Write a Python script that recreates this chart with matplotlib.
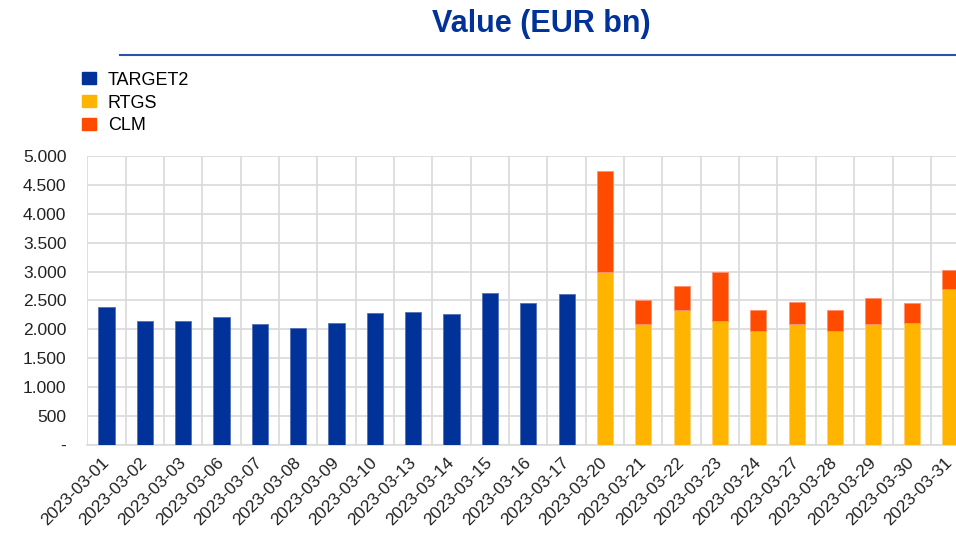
import matplotlib
matplotlib.use("Agg")
import matplotlib.pyplot as plt
import matplotlib.transforms as mtransforms
from matplotlib.lines import Line2D
from matplotlib.patches import Patch
import numpy as np

plt.rcParams['font.family'] = ['Liberation Sans', 'DejaVu Sans']

# business days of March 2023
dates = ["2023-03-01", "2023-03-02", "2023-03-03", "2023-03-06", "2023-03-07",
         "2023-03-08", "2023-03-09", "2023-03-10", "2023-03-13", "2023-03-14",
         "2023-03-15", "2023-03-16", "2023-03-17", "2023-03-20", "2023-03-21",
         "2023-03-22", "2023-03-23", "2023-03-24", "2023-03-27", "2023-03-28",
         "2023-03-29", "2023-03-30", "2023-03-31"]

# values in EUR bn (0 where the system was not yet / no longer running)
target2 = [2395, 2145, 2150, 2210, 2090, 2025, 2115, 2275, 2300, 2272,
           2635, 2450, 2607, 0, 0, 0, 0, 0, 0, 0, 0, 0, 0]
rtgs = [0] * 13 + [3000, 2090, 2330, 2145, 1967, 2090, 1967, 2090, 2115, 2695]
clm = [0] * 13 + [1740, 420, 425, 855, 365, 390, 365, 455, 335, 340]

yticks = [0, 500, 1000, 1500, 2000, 2500, 3000, 3500, 4000, 4500, 5000]
ytick_labels = ["-", "500", "1.000", "1.500", "2.000", "2.500", "3.000",
                "3.500", "4.000", "4.500", "5.000"]

c_t2 = "#003299"
c_rtgs = "#FFB400"
c_clm = "#FF4B00"

fig = plt.figure(figsize=(9.56, 5.34), dpi=100)
# plot area runs past the right edge of the picture, like the cropped original
ax = fig.add_axes([0.0913, 0.1667, 0.9225, 0.5412])

x = np.arange(len(dates))
w = 0.42
ax.bar(x, target2, width=w, color=c_t2, edgecolor="#5570b8", linewidth=0.6, zorder=3)
ax.bar(x, rtgs, width=w, color=c_rtgs, edgecolor="#ffd070", linewidth=0.6, zorder=3)
ax.bar(x, clm, width=w, bottom=rtgs, color=c_clm, edgecolor="#ff9070", linewidth=0.6, zorder=3)

ax.set_xlim(-0.5, len(dates) - 0.5)
ax.set_ylim(0, 5000)
ax.set_yticks(yticks)
ax.set_yticklabels(ytick_labels)
ax.set_xticks(x)
ax.set_xticklabels(dates, rotation=45, ha="right", va="center", rotation_mode="anchor")

# nudge the date labels a little to the left
shift = mtransforms.ScaledTranslation(-6 / 72, 0, fig.dpi_scale_trans)
for lab in ax.get_xticklabels():
    lab.set_transform(lab.get_transform() + shift)

# grid: horizontal at ticks, vertical between categories
ax.set_xticks(np.arange(-0.5, len(dates), 1), minor=True)
ax.grid(axis="y", color="#d9d9d9", linewidth=1.2, zorder=0)
ax.grid(axis="x", which="minor", color="#d9d9d9", linewidth=1.2, zorder=0)
ax.grid(axis="x", which="major", visible=False)

for s in ["top", "right", "left"]:
    ax.spines[s].set_visible(False)
ax.spines["bottom"].set_color("#d9d9d9")
ax.spines["bottom"].set_linewidth(1.2)

ax.tick_params(axis="y", length=0, pad=15, labelsize=12.5, labelcolor="#222222")
ax.tick_params(axis="x", which="both", length=0, pad=11, labelsize=12.5, labelcolor="#222222")

fig.text(0.566, 0.940, "Value (EUR bn)", ha="center", va="baseline",
         fontsize=22, fontweight="bold", color=c_t2)
fig.add_artist(Line2D([0.125, 1.0], [0.897, 0.897], color="#2a52a8", linewidth=1.5))

handles = [Patch(color=c_t2, label="TARGET2"),
           Patch(color=c_rtgs, label="RTGS"),
           Patch(color=c_clm, label="CLM")]
fig.legend(handles=handles, loc="upper left", bbox_to_anchor=(0.0855, 0.866),
           frameon=False, fontsize=13, handlelength=0.78, handleheight=0.65,
           handletextpad=0.67, labelspacing=0.33, borderpad=0, borderaxespad=0)

fig.savefig("out.png", dpi=100)
